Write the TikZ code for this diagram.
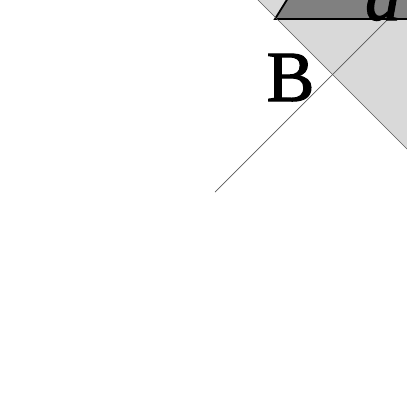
\documentclass[tikz,border=0pt]{standalone}
\usepackage{fontspec}
\setmainfont{Liberation Serif}
\newfontface\labfont{Liberation Serif}[FakeBold=1.5]
\newfontface\labitfont{Liberation Serif Italic}[FakeBold=1.5]
\begin{document}
\begin{tikzpicture}[x=1pt,y=-1pt]
		\useasboundingbox (0,0) rectangle (407,407);
		\clip (0,0) rectangle (407,407);
		%region
		\fill[gray!30] (240,-18) -- (440,182) -- (440,-18) -- cycle;
		%bar
		\filldraw[fill=gray, draw=black, line width=1.8pt] (275,19)
			-- (440,19)
			-- (440,-10)
			-- (293,-10)
			-- cycle;
		%diagonals
		\draw [black!65, line width=0.7pt] (240,-18) -- (440,182);
		\draw [black!65, line width=0.7pt] (215,192) -- (388,19);
		%labels
		\node (labB) at (290.5,101) [anchor=base, inner sep=0pt] {\fontsize{72}{76}\labfont B};
		\node (labd) at (365,20) [anchor=base west, inner sep=0pt] {\fontsize{72}{76}\labitfont d};
	\end{tikzpicture}
\end{document}
